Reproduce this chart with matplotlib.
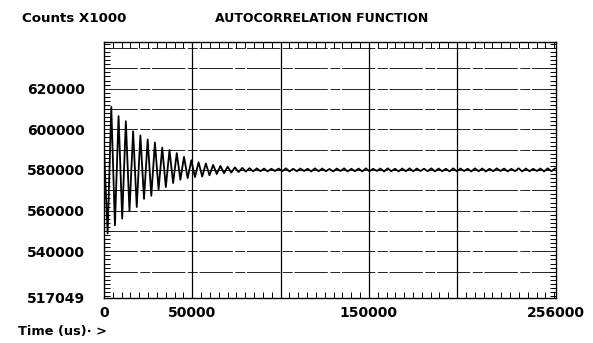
import matplotlib
matplotlib.use("Agg")
import matplotlib.pyplot as plt
from matplotlib.ticker import MultipleLocator
import numpy as np

# correlator output at every half oscillation (counts)
lag_step_us = 2060
counts = [
    590000, 548800, 611000, 552800, 606500, 556100, 604000, 559700,
    599000, 561800, 597000, 565800, 595000, 567300, 593500, 570300,
    591000, 571600, 589800, 573600, 588300, 575200, 586500, 576000,
    584800, 576500, 583800, 576800, 583200, 577400, 582500, 578000,
    582000, 578400, 581600, 578700, 581300, 579000, 581000, 579200,
    580900, 579300, 580800, 579400, 580700, 579300, 580600, 579500,
    580700, 579400, 580800, 579300, 580600, 579400, 580700, 579500,
    580600, 579300, 580800, 579400, 580700, 579400, 580500, 579300,
    580700, 579500, 580800, 579300, 580600, 579400, 580700, 579300,
    580800, 579400, 580600, 579500, 580700, 579300, 580800, 579400,
    580600, 579300, 580700, 579400, 580800, 579300, 580700, 579500,
    580600, 579400, 580800, 579300, 580700, 579400, 580600, 579300,
    580800, 579400, 580700, 579500, 580600, 579300, 580800, 579400,
    580700, 579300, 580600, 579400, 580800, 579500, 580700, 579300,
    580600, 579400, 580800, 579300, 580700, 579400, 580600, 579500,
    580700, 579300, 580800, 579400, 580700,
]
lag_us = np.arange(len(counts)) * lag_step_us

x_ticks = [0, 50000, 150000, 256000]
x_tick_labels = ["0", "50000", "150000", "256000"]
y_ticks = [517049, 540000, 560000, 580000, 600000, 620000]
y_tick_labels = ["517049", "540000", "560000", "580000", "600000", "620000"]

fig = plt.figure(figsize=(5.93, 3.43), dpi=100)
ax = fig.add_axes([0.1754, 0.1312, 0.7622, 0.7464])

# grid like the instrument printout
for gy in range(530000, 640001, 10000):
    ax.axhline(gy, color="black", lw=0.6, ls=(0, (40, 3, 12, 2)), zorder=1)
for gx in range(50000, 250000, 50000):
    ax.axvline(gx, color="black", lw=0.9, zorder=1)

ax.plot(lag_us, counts, color="black", lw=1.3, zorder=3)

ax.set_xlim(0, 256000)
ax.set_ylim(517049, 642951)

ax.set_xticks(x_ticks)
ax.set_xticklabels(x_tick_labels)
ax.set_yticks(y_ticks)
ax.set_yticklabels(y_tick_labels)
ax.xaxis.set_minor_locator(MultipleLocator(5000))
ax.yaxis.set_minor_locator(MultipleLocator(2000))
ax.tick_params(which="major", length=0, labelsize=10, pad=14)
ax.tick_params(axis="x", which="major", pad=6)
ax.tick_params(which="minor", direction="in", length=4, width=0.7,
               top=True, right=True, bottom=True, left=True)
for lab in ax.get_xticklabels() + ax.get_yticklabels():
    lab.set_fontweight("bold")
    lab.set_family("DejaVu Sans")

for sp in ax.spines.values():
    sp.set_linewidth(1.0)

fig.text(22 / 593, 1 - 18 / 343, "Counts X1000", fontsize=9.6,
         fontweight="bold", family="DejaVu Sans", ha="left", va="center")
fig.text(322 / 593, 1 - 18 / 343, "AUTOCORRELATION FUNCTION", fontsize=9,
         fontweight="bold", family="DejaVu Sans", ha="center", va="center")
fig.text(18 / 593, 1 - 332 / 343, "Time (us)\u00b7 >", fontsize=9.3,
         fontweight="bold", family="DejaVu Sans", ha="left", va="center")

fig.savefig("out.png", dpi=100)
